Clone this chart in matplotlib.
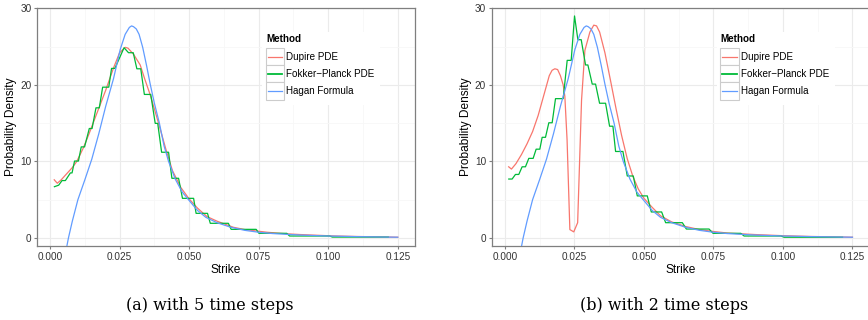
import matplotlib
matplotlib.use("Agg")
from matplotlib import pyplot as plt
from matplotlib.patches import Rectangle
import numpy as np

plt.rcParams['font.family'] = ['Liberation Sans', 'DejaVu Sans']

# Hagan formula density (same in both panels)
hagan_x = [0.0058, 0.0066, 0.008, 0.010, 0.0125, 0.015, 0.0175, 0.020, 0.0228, 0.0252,
           0.027, 0.0285, 0.0293, 0.030, 0.031, 0.032, 0.0333, 0.0347, 0.036, 0.0375,
           0.0393, 0.041, 0.0426, 0.045, 0.0475, 0.050, 0.053, 0.056, 0.060, 0.065,
           0.070, 0.075, 0.080, 0.090, 0.100, 0.110, 0.125]
hagan_y = [-1.5, 0.0, 2.2, 5.0, 7.6, 10.3, 13.6, 17.2, 20.8, 24.6,
           26.6, 27.5, 27.7, 27.6, 27.3, 26.6, 24.9, 22.5, 20.1, 17.6,
           15.0, 12.0, 10.0, 7.7, 6.0, 4.9, 3.6, 2.7, 2.0, 1.4,
           1.0, 0.75, 0.58, 0.38, 0.26, 0.18, 0.1]

# (a) 5 time steps
dupire5_x = [0.0015, 0.0026, 0.004, 0.006, 0.008, 0.0096, 0.012, 0.014, 0.016, 0.018,
             0.020, 0.0228, 0.025, 0.027, 0.028, 0.030, 0.0324, 0.034, 0.036, 0.039,
             0.0417, 0.044, 0.047, 0.050, 0.053, 0.0564, 0.060, 0.0659, 0.070, 0.078,
             0.085, 0.090, 0.1018, 0.110, 0.125]
dupire5_y = [7.6, 7.15, 7.6, 8.4, 9.2, 10.0, 11.8, 13.6, 15.5, 17.4,
             19.3, 22.2, 24.2, 24.9, 24.8, 24.0, 22.6, 20.8, 18.7, 15.0,
             11.5, 8.8, 6.6, 5.1, 3.9, 2.8, 2.2, 1.4, 1.1, 0.75,
             0.55, 0.45, 0.27, 0.2, 0.1]

fp5_x = [0.00156, 0.0031, 0.0043, 0.0055, 0.0073, 0.0079, 0.0088, 0.0102, 0.0112, 0.0124,
         0.0141, 0.0151, 0.0165, 0.0177, 0.0189, 0.0211, 0.0221, 0.0233, 0.0266, 0.0282,
         0.0299, 0.0312, 0.0326, 0.0339, 0.0362, 0.0378, 0.0387, 0.0401, 0.0426, 0.0438,
         0.0462, 0.0476, 0.0516, 0.0525, 0.0566, 0.0576, 0.0641, 0.0651, 0.0741, 0.0751,
         0.0851, 0.0861, 0.1005, 0.1015, 0.1216]
fp5_y = [6.7, 6.9, 7.5, 7.5, 8.5, 8.5, 10.05, 10.05, 11.9, 11.9,
         14.3, 14.3, 17.0, 17.0, 19.7, 19.7, 22.15, 22.15, 24.85, 24.2,
         24.2, 22.1, 22.1, 18.75, 18.75, 14.97, 14.97, 11.2, 11.2, 7.8,
         7.8, 5.18, 5.18, 3.22, 3.22, 1.92, 1.92, 1.13, 1.13, 0.61,
         0.61, 0.26, 0.26, 0.12, 0.12]

# (b) 2 time steps
dupire2_x = [0.0014, 0.0024, 0.004, 0.006, 0.008, 0.010, 0.012, 0.014, 0.016, 0.017,
             0.018, 0.019, 0.020, 0.021, 0.0216, 0.0224, 0.0234, 0.0248, 0.0262, 0.0276,
             0.0288, 0.0306, 0.032, 0.033, 0.0341, 0.036, 0.038, 0.040, 0.042, 0.044,
             0.046, 0.048, 0.050, 0.053, 0.056, 0.060, 0.065, 0.070, 0.075, 0.080,
             0.090, 0.100, 0.110, 0.125]
dupire2_y = [9.3, 9.0, 9.7, 10.9, 12.3, 13.9, 16.0, 18.6, 21.2, 21.9,
             22.1, 22.0, 21.2, 20.0, 18.5, 12.8, 1.1, 0.8, 2.0, 18.0,
             24.5, 26.9, 27.8, 27.7, 26.9, 24.2, 20.6, 16.9, 13.4, 10.4,
             8.1, 6.4, 5.2, 4.0, 2.9, 2.1, 1.5, 1.1, 0.85, 0.65,
             0.45, 0.3, 0.2, 0.1]

fp2_x = [0.00144, 0.00264, 0.00384, 0.00504, 0.00624, 0.00744, 0.00864, 0.0102, 0.01128, 0.0126,
         0.01344, 0.01464, 0.01584, 0.01704, 0.01824, 0.021, 0.02244, 0.02388, 0.02508, 0.02628,
         0.02748, 0.02904, 0.02988, 0.03144, 0.03264, 0.03408, 0.03624, 0.03768, 0.03888, 0.03984,
         0.04248, 0.04404, 0.0462, 0.04764, 0.05124, 0.05268, 0.0564, 0.05784, 0.06384, 0.06528,
         0.07344, 0.07488, 0.08484, 0.08604, 0.09924, 0.10044, 0.12144]
fp2_y = [7.7, 7.7, 8.3, 8.3, 9.3, 9.3, 10.4, 10.4, 11.6, 11.6,
         13.15, 13.15, 15.05, 15.05, 18.2, 18.2, 23.2, 23.2, 29.0, 25.9,
         25.9, 22.6, 22.6, 20.1, 20.1, 17.6, 17.6, 14.6, 14.6, 11.3,
         11.3, 8.1, 8.1, 5.5, 5.5, 3.4, 3.4, 2.0, 2.0, 1.17,
         1.17, 0.61, 0.61, 0.26, 0.26, 0.1, 0.1]

methods = ['Dupire PDE', 'Fokker\u2212Planck PDE', 'Hagan Formula']
colors = ['#F8766D', '#00BA38', '#619CFF']
captions = ['(a) with 5 time steps', '(b) with 2 time steps']

fig = plt.figure(figsize=(8.68, 3.2), dpi=100)
ax1 = fig.add_axes([37 / 868, 1 - 246 / 320, 378 / 868, 237.7 / 320])
ax2 = fig.add_axes([491.7 / 868, 1 - 246 / 320, 378 / 868, 237.7 / 320])

panels = [(ax1, [(dupire5_x, dupire5_y), (fp5_x, fp5_y), (hagan_x, hagan_y)]),
          (ax2, [(dupire2_x, dupire2_y), (fp2_x, fp2_y), (hagan_x, hagan_y)])]

for ax, series in panels:
    for (xs, ys), c in zip(series, colors):
        ax.plot(xs, ys, color=c, lw=0.9, zorder=3)

    ax.set_xlim(-0.0047, 0.1312)
    ax.set_ylim(-1.045, 30)
    ax.set_xticks(np.arange(0, 0.126, 0.025))
    ax.set_xticks(np.arange(0.0125, 0.13, 0.025), minor=True)
    ax.set_yticks([0, 10, 20, 30])
    ax.set_yticks([5, 15, 25], minor=True)
    ax.set_xticklabels(['%.3f' % v for v in np.arange(0, 0.126, 0.025)])
    ax.grid(which='major', color='#EBEBEB', lw=0.8, zorder=0)
    ax.grid(which='minor', color='#F7F7F7', lw=0.6, zorder=0)
    ax.set_axisbelow(True)
    for s in ax.spines.values():
        s.set_color('#7F7F7F')
        s.set_linewidth(0.9)
    ax.tick_params(which='major', length=2.5, width=0.8, color='#7F7F7F',
                   labelsize=7.2, labelcolor='#333333', pad=1.5)
    ax.tick_params(which='minor', length=0)
    ax.set_xlabel('Strike', fontsize=8.6, labelpad=1.5)
    ax.set_ylabel('Probability Density', fontsize=8.6, labelpad=2)

    # legend drawn in axes coordinates
    ax.add_patch(Rectangle((0.595, 0.593), 0.312, 0.307, transform=ax.transAxes,
                           facecolor='white', edgecolor='none', zorder=4))
    ax.text(0.606, 0.870, 'Method', transform=ax.transAxes, fontsize=7.1,
            fontweight='bold', va='center', ha='left', zorder=5)
    for i, (m, c) in enumerate(zip(methods, colors)):
        yc = 0.797 - i * 0.0726
        ax.add_patch(Rectangle((0.605, yc - 0.0363), 0.048, 0.0726, transform=ax.transAxes,
                               facecolor='white', edgecolor='#CCCCCC', lw=0.8, zorder=5))
        ax.plot([0.610, 0.648], [yc, yc], transform=ax.transAxes, color=c,
                lw=1.3 if i == 1 else 0.9, zorder=6, clip_on=False)
        ax.text(0.659, yc, m, transform=ax.transAxes, fontsize=7.1,
                va='center', ha='left', zorder=6)

fig.text(210 / 868, 1 - 305 / 320, captions[0], family='DejaVu Serif',
         fontsize=11.5, ha='center', va='center')
fig.text(664 / 868, 1 - 305 / 320, captions[1], family='DejaVu Serif',
         fontsize=11.5, ha='center', va='center')

fig.savefig('out.png', dpi=100)
